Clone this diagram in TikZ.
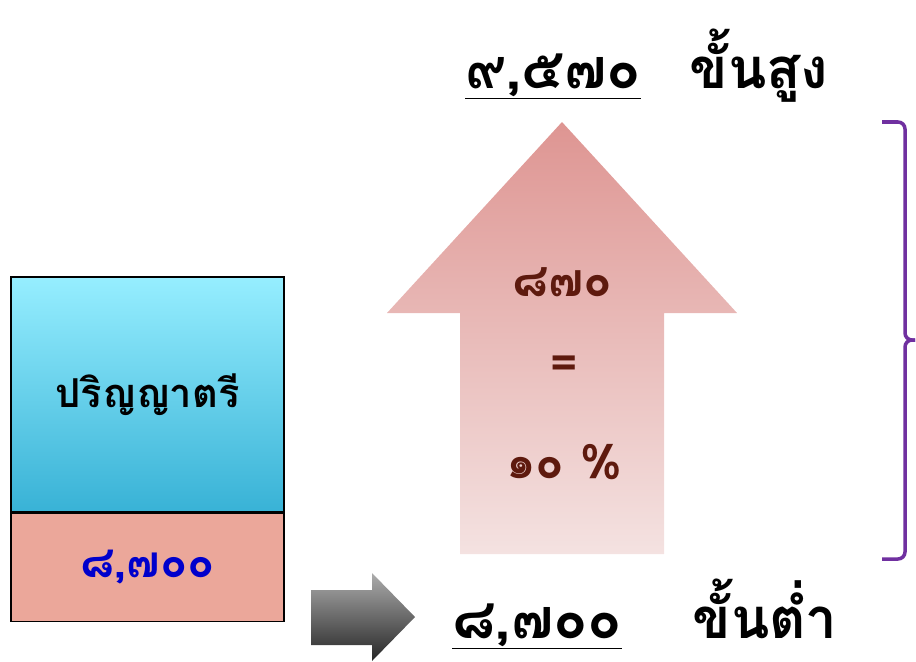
\documentclass[tikz,border=0pt]{standalone}
\usepackage{fontspec}
\setmainfont[Script=Thai]{Loma}
\usetikzlibrary{positioning}

\definecolor{cyanTop}{HTML}{96EEFF}
\definecolor{cyanBot}{HTML}{38B2D6}
\definecolor{salmonFill}{HTML}{EBA79A}
\definecolor{roseTop}{HTML}{DE9592}
\definecolor{roseBot}{HTML}{F4E2E1}
\definecolor{brownText}{HTML}{5E1A0E}
\definecolor{braceViolet}{HTML}{7030A0}
\definecolor{numBlue}{HTML}{0000CC}

\begin{document}
\begin{tikzpicture}[
  x=0.03cm, y=-0.03cm,
  every node/.style = {inner sep=0pt, font=\bfseries},
  salbox/.style   = {rectangle, draw=black, line width=1.2pt,
                     minimum width=273*0.03cm, minimum height=#1*0.03cm},
  biglabel/.style = {anchor=base, font=\fontsize{48}{56}\selectfont\bfseries},
  midlabel/.style = {font=\fontsize{34}{40}\selectfont\bfseries},
  arrtext/.style  = {font=\fontsize{40}{46}\selectfont\bfseries, text=brownText},
]
\useasboundingbox (0,0) rectangle (916,661);

%% ── salary column on the left ──────────────────────────────
\node[salbox=235, top color=cyanTop, bottom color=cyanBot] at (147.5,394.5) (degree) {};
\node[salbox=108, fill=salmonFill, below=0pt of degree] (base) {};
\node[midlabel] at (degree.center) (degreetxt) {ปริญญาตรี};
\node[midlabel, font=\fontsize{38}{44}\selectfont\bfseries, text=numBlue]
  at (base.center) (basetxt) {๘,๗๐๐};

%% ── up arrow with the step ─────────────────────────────────
\shade[top color=roseTop, bottom color=roseBot]
  (562,122) -- (737,313) -- (664,313) -- (664,554)
  -- (460,554) -- (460,313) -- (387,313) -- cycle;
\node[arrtext] at (562,282) (steptxt) {๘๗๐};
\node[arrtext] at (564,368) (eqtxt) {=};
\node[arrtext] at (564,462) (pcttxt) {๑๐ \%};

%% ── top and bottom of the range ────────────────────────────
\node[biglabel] at (553,88) (topval) {\underline{๙,๕๗๐}};
\node[biglabel] at (759,88) (toptxt) {ขั้นสูง};
\node[biglabel, text depth=0pt] at (537,638) (lowval) {\underline{๘,๗๐๐}};
\node[biglabel, text depth=0pt] at (765,638) (lowtxt) {ขั้นต่ำ};

%% ── grey pointer to the lowest step ────────────────────────
\shade[top color=gray!65, bottom color=black!85]
  (311,590) -- (372,590) -- (372,573) -- (415,617)
  -- (372,661) -- (372,645) -- (311,645) -- cycle;

%% ── brace on the right ─────────────────────────────────────
\draw[braceViolet, line width=3pt, rounded corners=6pt]
  (882,122) -- (905,122) -- (905,340) -- (915,340);
\draw[braceViolet, line width=3pt, rounded corners=6pt]
  (915,340) -- (905,340) -- (905,559) -- (882,559);
\end{tikzpicture}
\end{document}
